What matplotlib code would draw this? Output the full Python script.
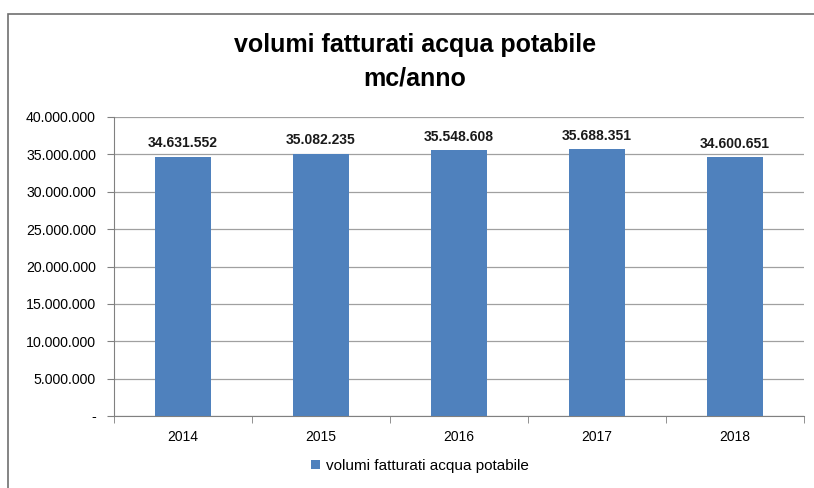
import numpy as np
import matplotlib.pyplot as plt
from matplotlib.patches import Rectangle
from matplotlib.ticker import FuncFormatter

years = ["2014", "2015", "2016", "2017", "2018"]
volumes = [34631552, 35082235, 35548608, 35688351, 34600651]
series_name = "volumi fatturati acqua potabile"


def fmt_it(v, pos=None):
    if v == 0:
        return "-"
    return f"{int(round(v)):,}".replace(",", ".")


W, H = 814, 488
fig = plt.figure(figsize=(W / 100, H / 100), dpi=100)
plt.rcParams['font.family'] = ['Liberation Sans', 'DejaVu Sans']

# outer frame of the chart
fig.patches.append(Rectangle((8 / W, -0.1), 1.0, (H - 14) / H + 0.1,
                             transform=fig.transFigure, fill=False,
                             edgecolor="#6f6f6f", linewidth=1.2))

ax = fig.add_axes([114 / W, 1 - 416 / H, (804 - 114) / W, (416 - 117) / H])
x = np.arange(len(years))
bars = ax.bar(x, volumes, width=0.41, color="#4F81BD", label=series_name, zorder=3)

for xi, v in zip(x, volumes):
    ax.text(xi, v + 900000, fmt_it(v), ha="center", va="bottom",
            fontsize=10, fontweight="bold", color="#1a1a1a")

ax.set_ylim(0, 40000000)
ax.set_xlim(-0.5, len(years) - 0.5)
ax.set_yticks(np.arange(0, 40000001, 5000000))
ax.yaxis.set_major_formatter(FuncFormatter(fmt_it))
ax.set_xticks(x)
ax.set_xticklabels(years)
ax.set_xticks(np.arange(-0.5, len(years)), minor=True)
ax.tick_params(axis="x", which="major", length=0, labelsize=10, pad=10)
ax.tick_params(axis="x", which="minor", length=5, color="#808080")
ax.tick_params(axis="y", length=5, color="#808080", labelsize=10.2, pad=8)
ax.grid(axis="y", color="#a0a0a0", linewidth=0.9, zorder=0)

for side in ["top", "right"]:
    ax.spines[side].set_visible(False)
ax.spines["left"].set_color("#808080")
ax.spines["bottom"].set_color("#808080")

fig.text(415 / W, 1 - 45 / H, "volumi fatturati acqua potabile",
         ha="center", va="center", fontsize=18, fontweight="bold")
fig.text(415 / W, 1 - 78 / H, "mc/anno",
         ha="center", va="center", fontsize=18, fontweight="bold")

fig.legend(handles=[bars], labels=[series_name], loc="center",
           bbox_to_anchor=(420 / W, 1 - 466 / H), frameon=False,
           fontsize=11, handlelength=0.6, handleheight=0.6, handletextpad=0.4)

fig.savefig("out.png", dpi=100)
